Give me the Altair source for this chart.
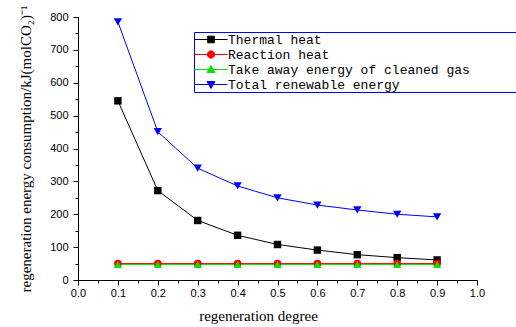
import altair as alt
import pandas as pd

degree = [0.1, 0.2, 0.3, 0.4, 0.5, 0.6, 0.7, 0.8, 0.9]
thermal = [545, 272, 181, 136, 108, 91, 77, 68, 61]
reaction = [50, 50, 50, 50, 50, 50, 50, 50, 50]
takeaway = [47, 47, 47, 47, 47, 47, 47, 47, 47]
total = [785, 451, 340, 286, 250, 228, 213, 200, 192]

series = ["Thermal heat", "Reaction heat", "Take away energy of cleaned gas", "Total renewable energy"]
colors = ["#000000", "#ff0000", "#00e600", "#0000ff"]
shapes = ["square", "circle", "triangle-up", "triangle-down"]
sizes = [55, 70, 90, 110]
legend_paths = [
    "M-1,0H1M-0.2,-0.2H0.2V0.2H-0.2Z",
    "M-1,0H1M-0.22,0A0.22,0.22,0,1,0,0.22,0A0.22,0.22,0,1,0,-0.22,0Z",
    "M-1,0H1M0,-0.24L0.24,0.18H-0.24Z",
    "M-1,0H1M0,0.24L0.24,-0.18H-0.24Z",
]

x_major = [round(i / 10, 1) for i in range(11)]
x_minor = [round(i / 20, 2) for i in range(1, 20, 2)]
y_major = [i * 100 for i in range(9)]
y_minor = [i * 100 + 50 for i in range(8)]

rows = []
for name, vals in zip(series, [thermal, reaction, takeaway, total]):
    for x, y in zip(degree, vals):
        rows.append({"series": name, "degree": x, "value": y, "order": series.index(name)})
df = pd.DataFrame(rows)

xscale = alt.Scale(domain=[0, 1], nice=False, zero=False)
yscale = alt.Scale(domain=[0, 800], nice=False)

xenc = alt.X("degree:Q", scale=xscale,
             axis=alt.Axis(values=x_major, format=".1f", labelOverlap=False, labelFlush=False, orient="bottom",
                           tickSize=5, title="regeneration degree", titleX=180, titleAlign="center",
                           titleAnchor="start", titlePadding=10, labelPadding=2, grid=False,
                           titleFont="Liberation Serif", titleFontSize=15, titleFontWeight="normal"))
yenc = alt.Y("value:Q", scale=yscale,
             axis=alt.Axis(values=y_major, labelOverlap=False, labelFlush=False, orient="left",
                           tickSize=5, title="regeneration energy consumption/kJ(molCO₂)⁻¹",
                           titlePadding=16, labelPadding=5, grid=False,
                           titleFont="Liberation Serif", titleFontSize=15, titleFontWeight="normal"))

base = alt.Chart(df)

lines = base.mark_line(strokeWidth=1).encode(
    x=xenc, y=yenc,
    color=alt.Color("series:N", scale=alt.Scale(domain=series, range=colors), legend=None),
    detail="series:N",
)

minor = base.transform_filter("false").mark_point().encode(
    x=alt.X("degree:Q", scale=xscale,
            axis=alt.Axis(values=x_minor, labels=False, domain=False, tickSize=3, title=None,
                          orient="bottom", grid=False)),
    y=alt.Y("value:Q", scale=yscale,
            axis=alt.Axis(values=y_minor, labels=False, domain=False, tickSize=3, title=None,
                          orient="left", grid=False)),
)

points = base.mark_point(filled=True, opacity=1).encode(
    x=alt.X("degree:Q", axis=None),
    y=alt.Y("value:Q", axis=None),
    color=alt.Color("series:N", scale=alt.Scale(domain=series, range=colors), legend=None),
    shape=alt.Shape("series:N", scale=alt.Scale(domain=series, range=shapes), legend=None),
    size=alt.Size("series:N", scale=alt.Scale(domain=series, range=sizes), legend=None),
    order="order:Q",
)

leg = dict(
    orient="none", legendX=116, legendY=15,
    title="XXXXXXXXXX", titleOrient="right", titleFont="Liberation Mono", titleFontSize=13,
    titleColor="#ffffff", titlePadding=0,
    strokeColor="#0000ff", padding=0, fillColor="white",
    labelFont="Liberation Mono", labelFontSize=13, labelColor="#000000",
    labelLimit=0, labelOffset=0, clipHeight=15,
    symbolSize=1089, symbolStrokeWidth=1, rowPadding=0, symbolOffset=0,
    symbolOpacity=1,
)

legend_layer = base.transform_filter("false").mark_point(filled=True, opacity=1, strokeWidth=1).encode(
    x=alt.X("degree:Q", axis=None),
    y=alt.Y("value:Q", axis=None),
    fill=alt.Fill("series:N", scale=alt.Scale(domain=series, range=colors), legend=alt.Legend(**leg)),
    stroke=alt.Stroke("series:N", scale=alt.Scale(domain=series, range=colors), legend=alt.Legend(**leg)),
    shape=alt.Shape("series:N", scale=alt.Scale(domain=series, range=legend_paths), legend=alt.Legend(**leg)),
)

chart = alt.layer(lines, minor, points, legend_layer).resolve_scale(
    color="independent", shape="independent", fill="independent", stroke="independent", size="independent"
).resolve_axis(x="independent", y="independent").properties(
    width=399, height=263,
    padding={"left": 78, "top": 17, "right": 39, "bottom": 47},
    autosize=alt.AutoSizeParams(type="none"),
    background="white",
).configure_view(stroke=None).configure_axis(
    domainColor="#000000", tickColor="#000000", labelColor="#000000",
    labelFont="Liberation Sans", labelFontSize=11,
    titleFont="Liberation Serif", titleFontSize=15, titleFontWeight="normal", titleColor="#000000",
)

chart.save("out.html", embed_options={"renderer": "svg", "actions": False})
